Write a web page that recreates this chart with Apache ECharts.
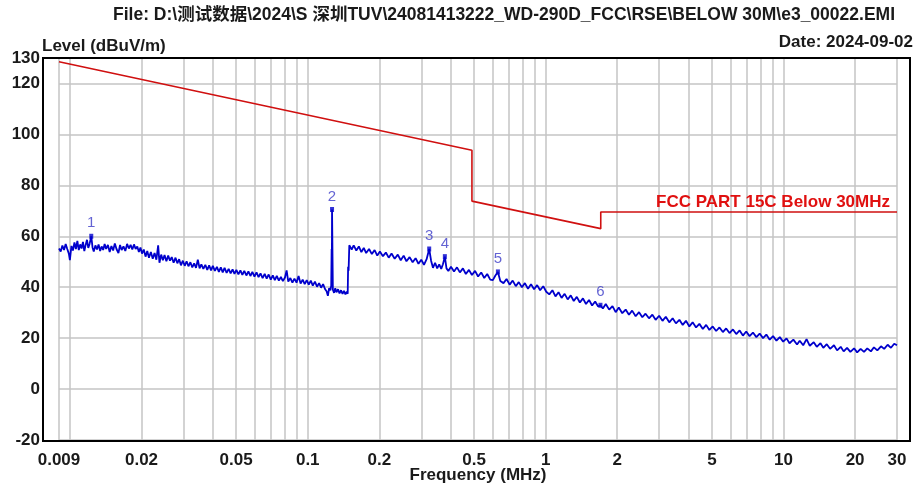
<!DOCTYPE html>
<html>
<head>
<meta charset="utf-8">
<title>RSE below 30M</title>
<script src="https://cdn.jsdelivr.net/npm/echarts@6.0.0/dist/echarts.min.js"></script>
<style>
  html, body { margin: 0; padding: 0; background: #fff; }
  #main { width: 916px; height: 488px; }
</style>
</head>
<body>
<div id="main"></div>
<script>
// header texts
var fileTitle = 'File: D:\\测试数据\\2024\\S 深圳TUV\\24081413222_WD-290D_FCC\\RSE\\BELOW 30M\\e3_00022.EMI';
var dateText = 'Date: 2024-09-02';
var limitName = 'FCC PART 15C Below 30MHz';

// x axis (MHz, log)
var freqLabels = [0.009, 0.02, 0.05, 0.1, 0.2, 0.5, 1, 2, 5, 10, 20, 30];
var freqGrid = [0.009, 0.01, 0.02, 0.03, 0.04, 0.05, 0.06, 0.07, 0.08, 0.09,
  0.1, 0.2, 0.3, 0.4, 0.5, 0.6, 0.7, 0.8, 0.9,
  1, 2, 3, 4, 5, 6, 7, 8, 9, 10, 20, 30];
// y axis (dBuV/m)
var levelLabels = [-20, 0, 20, 40, 60, 80, 100, 120, 130];

// limit line: FCC 15.209 at 3 m
var limitFreq  = [0.009, 0.49, 0.49, 1.705, 1.705, 30];
var limitLevel = [128.5, 93.8, 73.8, 63.0, 69.5, 69.5];

// peak markers
var markerNo    = ['1', '2', '3', '4', '5', '6'];
var markerFreq  = [0.0123, 0.1265, 0.324, 0.377, 0.630, 1.700];
var markerLevel = [60.0, 70.5, 55.0, 52.0, 46.0, 32.9];

var traceData = [
  [0.00900,55.2],[0.00915,54.0],[0.00930,56.4],[0.00945,54.6],[0.00960,57.0],[0.00975,55.0],
  [0.00990,53.2],[0.01000,50.6],[0.01015,56.2],[0.01030,54.4],[0.01045,57.6],[0.01060,55.0],
  [0.01075,58.2],[0.01090,54.6],[0.01105,56.8],[0.01120,55.2],[0.01135,57.8],[0.01150,54.2],
  [0.01165,56.6],[0.01180,58.6],[0.01195,55.4],[0.01210,57.0],[0.01230,60.0],[0.01245,55.6],
  [0.01260,54.0],[0.01280,56.4],[0.01300,54.8],[0.01320,56.8],[0.01340,54.2],[0.01360,56.0],
  [0.01380,54.6],[0.01400,57.0],[0.01420,55.0],[0.01445,56.6],[0.01470,53.8],[0.01495,56.2],
  [0.01520,54.4],[0.01545,57.2],[0.01570,55.0],[0.01600,53.4],[0.01625,56.6],[0.01650,54.6],
  [0.01680,56.0],[0.01710,54.2],[0.01740,57.0],[0.01770,55.2],[0.01800,56.6],[0.01830,54.8],
  [0.01860,56.8],[0.01890,55.0],[0.01920,56.0],[0.01950,53.8],[0.01980,55.6],[0.02010,53.2],
  [0.02045,54.8],[0.02080,52.0],[0.02115,54.2],[0.02150,51.6],[0.02190,53.8],[0.02230,51.2],
  [0.02270,53.4],[0.02310,50.8],[0.02350,56.4],[0.02380,49.6],[0.02420,52.8],[0.02460,50.6],
  [0.02500,52.6],[0.02545,50.2],[0.02590,52.4],[0.02635,50.4],[0.02680,51.8],[0.02730,49.6],
  [0.02780,51.6],[0.02830,49.4],[0.02880,51.0],[0.02930,48.6],[0.02985,50.4],[0.03040,48.4],
  [0.03095,50.2],[0.03150,48.2],[0.03210,49.8],[0.03270,47.8],[0.03330,49.4],[0.03390,47.6],
  [0.03450,50.8],[0.03510,47.4],[0.03570,49.0],[0.03640,47.2],[0.03710,48.8],[0.03780,46.8],
  [0.03850,48.6],[0.03920,46.6],[0.03990,48.4],[0.04070,46.4],[0.04150,48.0],[0.04230,46.0],
  [0.04310,47.8],[0.04390,45.8],[0.04470,47.6],[0.04560,45.6],[0.04650,47.2],[0.04740,45.4],
  [0.04830,47.0],[0.04920,45.2],[0.05010,46.8],
  [0.0511,45.0],[0.0521,46.6],[0.0531,44.8],[0.0541,46.4],[0.0552,44.6],[0.0563,46.2],
  [0.0574,44.4],[0.0585,46.0],[0.0597,44.2],[0.0609,45.8],[0.0621,44.0],[0.0633,45.4],
  [0.0646,43.6],[0.0659,45.2],[0.0672,43.4],[0.0685,45.0],[0.0699,43.0],[0.0713,44.6],
  [0.0727,42.8],[0.0741,44.4],[0.0756,42.6],[0.0771,44.0],[0.0786,42.4],[0.0802,43.8],
  [0.0815,46.6],[0.0828,42.2],[0.0845,43.6],[0.0862,41.8],[0.0879,43.4],[0.0897,41.8],
  [0.0915,44.4],[0.0933,41.4],[0.0952,43.0],[0.0971,41.2],[0.0990,42.8],[0.1010,41.0],
  [0.1030,42.6],[0.1050,40.6],[0.1072,42.2],[0.1094,40.2],[0.1116,41.6],[0.1138,39.8],
  [0.1160,41.2],[0.1183,39.2],[0.1200,38.4],[0.1215,36.6],[0.1230,39.6],[0.1245,38.8],
  [0.1255,40.6],[0.1260,55.0],[0.1262,41.0],[0.1265,70.5],[0.1275,39.0],[0.1290,37.8],
  [0.1305,39.6],[0.1320,38.0],[0.1340,39.2],[0.1360,37.6],[0.1380,38.8],[0.1400,37.4],
  [0.1420,38.6],[0.1440,37.2],[0.1460,38.2],[0.1472,37.4],[0.1478,48.0],[0.1485,46.5],
  [0.1495,56.5],
  [0.1530,54.8],[0.1560,56.4],[0.1600,54.4],[0.1640,56.0],[0.1680,53.8],[0.1720,55.4],
  [0.1760,53.4],[0.1810,55.0],[0.1860,53.0],[0.1910,54.6],[0.1960,52.4],[0.2010,54.0],
  [0.2070,52.2],[0.2130,53.6],[0.2190,51.6],[0.2250,53.2],[0.2320,51.2],[0.2390,52.8],
  [0.2460,50.6],[0.2530,52.4],[0.2600,50.2],[0.2680,51.8],[0.2760,49.8],[0.2840,51.4],
  [0.2920,49.2],[0.3000,50.8],[0.3080,48.8],[0.3160,51.0],[0.3240,55.0],[0.3300,50.4],
  [0.3360,47.6],[0.3430,49.6],[0.3500,47.4],[0.3570,49.0],[0.3640,47.2],[0.3700,49.0],
  [0.3770,52.0],[0.3830,47.4],[0.3900,46.4],[0.4000,48.0],[0.4120,46.2],[0.4240,47.8],
  [0.4360,45.8],[0.4490,47.4],[0.4620,45.2],[0.4760,46.8],[0.4900,44.8],[0.5050,46.4],
  [0.5200,44.2],[0.5360,45.8],[0.5520,43.6],[0.5680,45.2],[0.5850,43.0],[0.6000,42.8],
  [0.6150,44.6],[0.6300,46.0],[0.6450,42.4],[0.6650,41.6],[0.6850,43.2],[0.7060,41.0],
  [0.7270,42.6],[0.7490,40.4],[0.7710,42.0],[0.7950,40.0],[0.8180,41.6],[0.8430,39.4],
  [0.8680,41.2],[0.8940,39.2],[0.9210,40.8],[0.9480,38.8],[0.9770,40.4],[1.006,38.2],
  [1.036,37.2],[1.068,38.8],[1.100,36.4],[1.133,38.0],[1.167,35.8],[1.202,37.4],
  [1.238,35.2],[1.275,36.8],[1.313,34.6],[1.352,36.2],[1.393,34.0],[1.435,35.6],
  [1.478,33.4],[1.522,35.0],[1.568,32.8],[1.615,34.4],[1.663,32.4],[1.700,32.9],
  [1.740,31.6],[1.790,33.4],[1.850,31.2],[1.910,32.6],[1.970,30.2],[2.03,32.0],
  [2.10,29.8],[2.17,31.2],[2.24,29.2],[2.31,30.8],[2.39,28.6],[2.47,30.2],
  [2.55,28.2],[2.63,29.6],[2.72,27.8],[2.81,29.2],[2.90,27.2],[3.00,28.8],
  [3.10,26.8],[3.20,28.4],[3.31,26.2],[3.42,27.8],[3.53,25.8],[3.65,27.2],
  [3.77,25.2],[3.89,26.8],[4.02,24.6],[4.15,26.2],[4.29,24.2],[4.43,25.6],
  [4.58,23.6],[4.73,25.2],[4.88,23.2],[5.04,24.6],[5.21,22.8],[5.38,24.2],
  [5.56,22.4],[5.74,23.8],[5.93,22.0],[6.13,23.4],[6.33,21.6],[6.54,23.0],
  [6.75,21.0],[6.97,22.6],[7.20,20.8],[7.44,22.2],[7.69,20.4],[7.94,21.8],
  [8.20,20.0],[8.47,21.4],[8.75,19.4],[9.04,20.8],[9.34,19.0],[9.65,20.4],
  [9.97,18.6],[10.3,19.9],[10.6,18.0],[11.0,19.4],[11.4,17.5],[11.7,19.0],
  [12.1,17.2],[12.5,19.6],[12.9,17.0],[13.4,18.4],[13.8,16.6],[14.3,18.0],
  [14.7,16.2],[15.2,17.6],[15.7,15.8],[16.3,17.2],[16.8,15.2],[17.4,16.6],
  [17.9,14.8],[18.5,16.2],[19.1,14.6],[19.8,16.0],[20.4,14.4],[21.1,15.8],
  [21.8,14.6],[22.5,16.0],[23.3,14.8],[24.0,16.4],[24.8,15.2],[25.7,16.8],
  [26.5,15.8],[27.4,17.4],[28.3,16.2],[29.2,17.8],[30.0,17.2]
];

var font = '"Liberation Sans", Arial, "Noto Sans CJK SC", sans-serif';

var limitData = [];
for (var i = 0; i < limitFreq.length; i++) {
  limitData.push([limitFreq[i], limitLevel[i]]);
}
var markerData = [];
for (var j = 0; j < markerFreq.length; j++) {
  markerData.push({ value: [markerFreq[j], markerLevel[j]], name: markerNo[j] });
}

var myChart = echarts.init(document.getElementById('main'));

var option = {
  animation: false,
  backgroundColor: '#ffffff',
  // keep the plot box fixed, labels may sit outside it
  grid: { left: 59, right: 19, top: 58, bottom: 48, outerBoundsMode: 'none', containLabel: false },
  xAxis: {
    type: 'log',
    logBase: 10,
    min: 0.009,
    max: 30,
    name: 'Frequency (MHz)',
    nameLocation: 'middle',
    nameGap: 27,
    nameMoveOverlap: false,
    nameTextStyle: { fontFamily: font, fontWeight: 'bold', fontSize: 17, color: '#1a1a1a' },
    axisLine: { show: false },
    axisTick: { show: false, customValues: freqGrid },
    axisLabel: {
      customValues: freqLabels,
      margin: 12,
      fontFamily: font, fontWeight: 'bold', fontSize: 17, color: '#1a1a1a',
      formatter: function (v) { return String(+v.toPrecision(3)); }
    },
    splitLine: { show: true, lineStyle: { color: '#c4c4c4', width: 1.5 } },
    minorSplitLine: { show: false }
  },
  yAxis: {
    type: 'value',
    min: -20,
    max: 130,
    interval: 20,
    axisLine: { show: false },
    axisTick: { show: false },
    axisLabel: {
      customValues: levelLabels,
      margin: 19,
      fontFamily: font, fontWeight: 'bold', fontSize: 17, color: '#1a1a1a'
    },
    splitLine: { show: true, lineStyle: { color: '#c4c4c4', width: 1.5 } }
  },
  graphic: [
    { type: 'rect', shape: { x: 43, y: 58, width: 867, height: 383 }, z: 100,
      style: { fill: 'none', stroke: '#000', lineWidth: 2 } },
    { type: 'text', x: 895, y: 15, z: 100,
      style: { text: fileTitle, align: 'right', verticalAlign: 'middle',
        font: 'bold 17.5px ' + font, fill: '#1a1a1a' } },
    { type: 'text', x: 913, y: 42, z: 100,
      style: { text: dateText, align: 'right', verticalAlign: 'middle',
        font: 'bold 17px ' + font, fill: '#1a1a1a' } },
    { type: 'text', x: 42, y: 46, z: 100,
      style: { text: 'Level (dBuV/m)', align: 'left', verticalAlign: 'middle',
        font: 'bold 17px ' + font, fill: '#1a1a1a' } },
    { type: 'text', x: 890, y: 202, z: 100,
      style: { text: limitName, align: 'right', verticalAlign: 'middle',
        font: 'bold 17px ' + font, fill: '#e01010' } }
  ],
  series: [
    {
      name: 'limit',
      type: 'line',
      data: limitData,
      showSymbol: false,
      z: 3,
      lineStyle: { color: '#d01010', width: 1.6 }
    },
    {
      name: 'trace',
      type: 'line',
      data: traceData,
      showSymbol: false,
      z: 4,
      lineStyle: { color: '#0000cc', width: 1.8 }
    },
    {
      name: 'markers',
      type: 'scatter',
      data: markerData,
      symbol: 'rect',
      symbolSize: [4, 5],
      z: 5,
      itemStyle: { color: '#0000cc' },
      label: {
        show: true,
        position: 'top',
        distance: 3,
        formatter: '{b}',
        fontFamily: font, fontSize: 15, color: '#3c3cc8'
      }
    }
  ]
};

myChart.setOption(option);
</script>
</body>
</html>
